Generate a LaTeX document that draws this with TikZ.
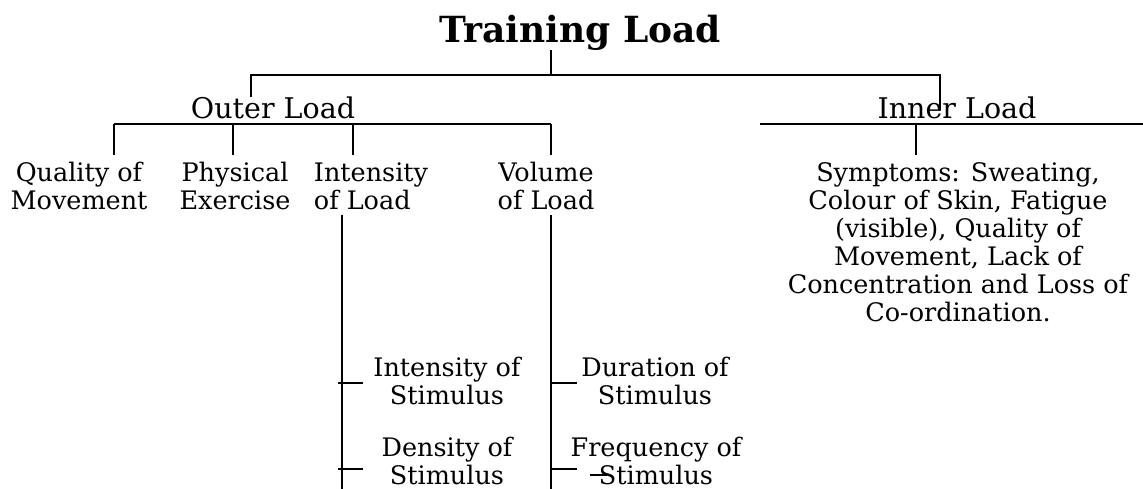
\documentclass[tikz,border=0pt]{standalone}
\usepackage{fontspec}
\setmainfont{DejaVu Serif}
\tikzset{
  ln/.style={line width=2.8pt},
  tk/.style={line width=2.2pt},
  txt/.style={align=center,inner sep=0pt,font=\fontsize{25.5}{28}\selectfont},
  hd/.style={inner sep=0pt,font=\fontsize{28.5}{30}\selectfont},
  ttl/.style={inner sep=0pt,font=\fontsize{36}{38}\selectfont\bfseries}
}

\begin{document}
\begin{tikzpicture}[x=1pt,y=-1pt]
\useasboundingbox (0,0) rectangle (1143,489);
% headings
\node[ttl] (title) at (580,33) {Training Load};
\node[hd] (outer) at (273,108) {Outer Load};
\node[hd] (inner) at (957,108) {Inner Load};
% outer load branches
\node[txt] (quality) at (79,186) {Quality of\\Movement};
\node[txt] (physical) at (235,186) {Physical\\Exercise};
\node[txt,align=left] (intensity) at (371,186) {Intensity\\of Load};
\node[txt] (volume) at (546,186) {Volume\\of Load};
% inner load
\node[txt] (symptoms) at (958,242) {Symptoms: Sweating,\\Colour of Skin, Fatigue\\(visible), Quality of\\Movement, Lack of\\Concentration and Loss of\\Co-ordination.};
% sub items
\node[txt] (intstim) at (447,381) {Intensity of\\Stimulus};
\node[txt] (densstim) at (447,461) {Density of\\Stimulus};
\node[txt] (durstim) at (655,381) {Duration of\\Stimulus};
\node[txt] (freqstim) at (656,461) {Frequency of\\Stimulus};

% joints
\coordinate (t0) at (551,50);  \coordinate (t1) at (551,75);
\coordinate (tl) at (251,75);  \coordinate (tr) at (940,75);
\coordinate (ol) at (251,97);  \coordinate (il) at (940,110);
\coordinate (o1) at (114,124); \coordinate (o2) at (233,124);
\coordinate (o3) at (353,124); \coordinate (o4) at (551,124);
\coordinate (i1) at (760,124); \coordinate (i2) at (1143,124);
\coordinate (i3) at (916,124);
\coordinate (s1) at (342,215); \coordinate (s2) at (342,489);
\coordinate (v1) at (551,215); \coordinate (v2) at (551,489);

\draw[ln] (t0) -- (t1);
\draw[ln] (ol) -- (tl) -- (tr) -- (il);
\draw[ln] (o1) -- (o4);
\foreach \c in {o1,o2,o3,o4} \draw[ln] (\c) -- ++(0,31);
\draw[ln] (i1) -- (i2);
\draw[ln] (i3) -- ++(0,31);
\draw[ln] (s1) -- (s2);
\draw[ln] (v1) -- (v2);
\foreach \y in {383,469} {
  \draw[tk] (338,\y) -- (363,\y);
  \draw[tk] (551,\y) -- (577,\y);
}
\draw[tk] (590,475) -- (607,475);
\end{tikzpicture}
\end{document}
